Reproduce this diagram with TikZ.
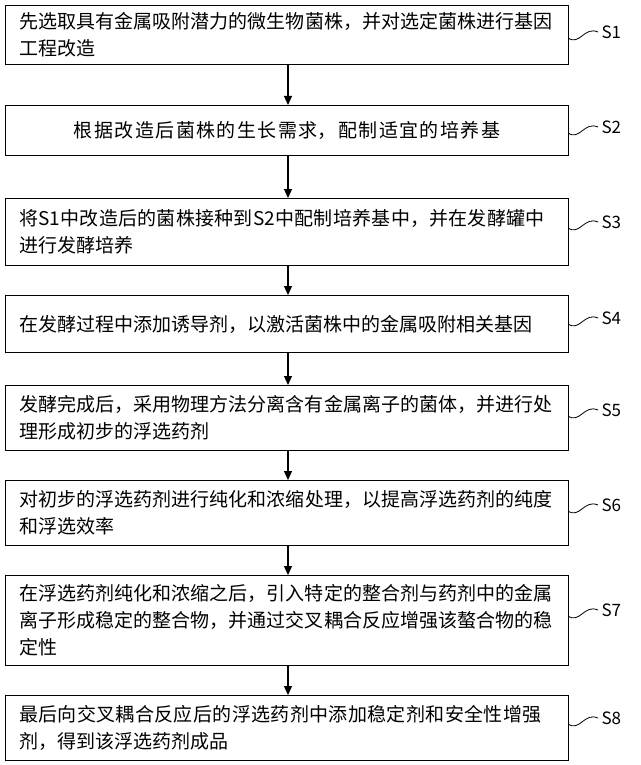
\documentclass[tikz,border=0pt]{standalone}
\usepackage{fontspec}
\newfontfamily\cjk{Noto Sans CJK SC}
\XeTeXlinebreaklocale "zh"
\XeTeXlinebreakskip=0pt plus 1pt
\usetikzlibrary{arrows.meta,positioning}
\tikzset{
  stepbox/.style={draw, line width=1.2pt, anchor=north west, minimum width=563pt,
    text width=536pt, align=left, inner sep=7pt, font=\cjk\fontsize{19}{27}\selectfont},
  flow/.style={-{Triangle[length=9pt,width=8pt]}, line width=1.2pt},
  tag/.style={font=\cjk\fontsize{17}{20}\selectfont, anchor=west},
  wave/.style={line width=0.8pt}
}
\begin{document}
\begin{tikzpicture}[x=1pt,y=-1pt]
\useasboundingbox (0,0) rectangle (640,765);
% step boxes
\node[stepbox, minimum height=53pt] (b1) at (5,5) {先选取具有金属吸附潜力的微生物菌株，并对选定菌株进行基因工程改造};
\node[stepbox, minimum height=50pt, align=center] (b2) at (5,105) {根据改造后菌株的生长需求，配制适宜的培养基};
\node[stepbox, minimum height=67pt] (b3) at (5,198) {将S1中改造后的菌株接种到S2中配制培养基中，并在发酵罐中进行发酵培养};
\node[stepbox, minimum height=57pt] (b4) at (5,295) {在发酵过程中添加诱导剂，以激活菌株中的金属吸附相关基因};
\node[stepbox, minimum height=65pt] (b5) at (5,385) {发酵完成后，采用物理方法分离含有金属离子的菌体，并进行处理形成初步的浮选药剂};
\node[stepbox, minimum height=65pt] (b6) at (5,480) {对初步的浮选药剂进行纯化和浓缩处理，以提高浮选药剂的纯度和浮选效率};
\node[stepbox, minimum height=90pt] (b7) at (5,575) {在浮选药剂纯化和浓缩之后，引入特定的整合剂与药剂中的金属离子形成稳定的整合物，并通过交叉耦合反应增强该螯合物的稳定性};
\node[stepbox, minimum height=65pt] (b8) at (5,695) {最后向交叉耦合反应后的浮选药剂中添加稳定剂和安全性增强剂，得到该浮选药剂成品};
% arrows
\foreach \a/\b in {b1/b2,b2/b3,b3/b4,b4/b5,b5/b6,b6/b7,b7/b8}
  \draw[flow] (\a.south -| 288,0) -- (\b.north -| 288,0);
% step labels
\foreach \n/\y in {1/32,2/127,3/222,4/318,5/410,6/505,7/610,8/718}{
  \node[tag] (s\n) at (598,\y) {S\n};
  \coordinate (c\n) at (568,\y+6);
  \draw[wave] (c\n) .. controls (580,\y+14) and (584,\y-6) .. (s\n.west);
}
\end{tikzpicture}
\end{document}
